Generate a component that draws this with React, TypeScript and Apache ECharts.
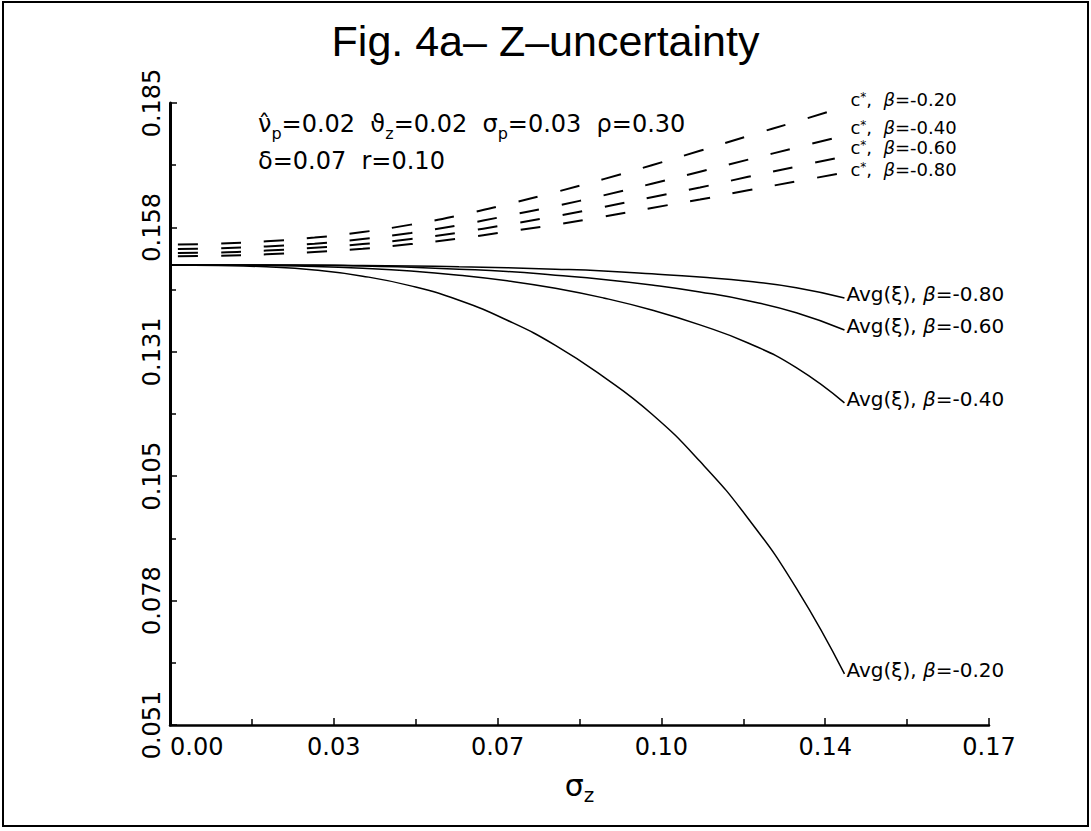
import React, { useEffect, useRef } from 'react';
import * as echarts from 'echarts';

// sigma_z sample points
const SIGMA_Z = [0, 0.01, 0.02, 0.03, 0.04, 0.05, 0.06, 0.07, 0.08, 0.09, 0.10, 0.11, 0.12, 0.13, 0.14];

// c* curves (dashed)
const C_STAR_B020 = [0.1545, 0.1547, 0.1552, 0.1560, 0.1572, 0.1588, 0.1608, 0.1632, 0.1658, 0.1686, 0.1716, 0.1747, 0.1779, 0.1810, 0.1842];
const C_STAR_B040 = [0.1535, 0.1537, 0.1541, 0.1547, 0.1557, 0.1570, 0.1587, 0.1607, 0.1628, 0.1651, 0.1676, 0.1702, 0.1728, 0.1754, 0.1780];
const C_STAR_B060 = [0.1527, 0.1528, 0.1532, 0.1538, 0.1546, 0.1557, 0.1571, 0.1588, 0.1606, 0.1626, 0.1647, 0.1668, 0.1691, 0.1713, 0.1735];
const C_STAR_B080 = [0.1520, 0.1521, 0.1524, 0.1529, 0.1536, 0.1546, 0.1558, 0.1573, 0.1588, 0.1605, 0.1624, 0.1642, 0.1662, 0.1681, 0.1700];

// Avg(xi) curves (solid)
const AVG_B020 = [0.1501, 0.1500, 0.1497, 0.1490, 0.1477, 0.1456, 0.1425, 0.1382, 0.1328, 0.1260, 0.1180, 0.1078, 0.0955, 0.0805, 0.0620];
const AVG_B040 = [0.1501, 0.1501, 0.1500, 0.1498, 0.1494, 0.1488, 0.1479, 0.1467, 0.1451, 0.1430, 0.1404, 0.1372, 0.1333, 0.1280, 0.1204];
const AVG_B060 = [0.1501, 0.1501, 0.1501, 0.1500, 0.1499, 0.1496, 0.1492, 0.1487, 0.1479, 0.1470, 0.1458, 0.1443, 0.1424, 0.1398, 0.1361];
const AVG_B080 = [0.1501, 0.1501, 0.1501, 0.1501, 0.1500, 0.1499, 0.1497, 0.1495, 0.1492, 0.1488, 0.1482, 0.1475, 0.1466, 0.1452, 0.1430];

// tick labels
const X_TICK_LABELS = ['0.00', '0.03', '0.07', '0.10', '0.14', '0.17'];
const Y_TICK_LABELS = ['0.051', '0.078', '0.105', '0.131', '0.158', '0.185'];
const X_STEP = 0.034;
const Y_MIN = 0.051;
const Y_STEP = 0.0268;

const FONT = 'DejaVu Sans';

const toAxis = (v: number) => (v - Y_MIN) / Y_STEP;
const pairs = (ys: number[]) => SIGMA_Z.map((x, i) => [x, toAxis(ys[i])]);

const cRich = {
  t: { fontSize: 18, fontFamily: FONT, color: '#000', lineHeight: 17 },
  b: { fontSize: 18, fontFamily: FONT, fontStyle: 'italic', color: '#000', lineHeight: 17 },
  sup: { fontSize: 12, fontFamily: FONT, color: '#000', verticalAlign: 'top', lineHeight: 12 },
};
const avgRich = {
  t: { fontSize: 20, fontFamily: FONT, color: '#000', lineHeight: 22 },
  b: { fontSize: 20, fontFamily: FONT, fontStyle: 'italic', color: '#000', lineHeight: 22 },
};

function dashed(name: string, ys: number[], beta: string, dy: number) {
  return {
    type: 'line',
    name,
    data: pairs(ys),
    showSymbol: false,
    smooth: true,
    lineStyle: { color: '#000', width: 2, type: [20, 23], dashOffset: 35 },
    endLabel: {
      show: true,
      formatter: `{t|c}{sup|*}{t|,  }{b|β}{t|=-${beta}}`,
      rich: cRich,
      distance: 6,
      offset: [0, dy],
    },
  };
}

function solid(name: string, ys: number[], beta: string) {
  return {
    type: 'line',
    name,
    data: pairs(ys),
    showSymbol: false,
    smooth: true,
    lineStyle: { color: '#000', width: 1.5, type: 'solid' },
    endLabel: {
      show: true,
      formatter: `{t|Avg(ξ), }{b|β}{t|=-${beta}}`,
      rich: avgRich,
      distance: 2,
      offset: [0, -4],
    },
  };
}

export default function App() {
  const ref = useRef<HTMLDivElement>(null);
  useEffect(() => {
    if (!ref.current) return;
    const chart = echarts.init(ref.current, null, { renderer: 'svg' });
    const annRich = {
      t: { fontSize: 24, fontFamily: FONT, color: '#000', lineHeight: 34, verticalAlign: 'middle' },
      s: { fontSize: 16, fontFamily: FONT, color: '#000', lineHeight: 16, verticalAlign: 'bottom' },
    };
    chart.setOption({
      animation: false,
      backgroundColor: '#fff',
      title: {
        text: 'Fig. 4a– Z–uncertainty',
        left: 'center',
        top: 14,
        textStyle: { fontFamily: 'Liberation Sans', fontSize: 43, fontWeight: 'normal', color: '#000' },
      },
      grid: { left: 170, right: 102, top: 103, bottom: 106 },
      xAxis: {
        type: 'value',
        min: 0,
        max: 0.17,
        interval: X_STEP,
        axisLine: { show: true, lineStyle: { color: '#000', width: 2.5 } },
        axisTick: { show: true, inside: true, length: 7, lineStyle: { color: '#000', width: 1.5 } },
        minorTick: { show: true, splitNumber: 2, length: 6, lineStyle: { color: '#000', width: 1.5 } },
        splitLine: { show: false },
        axisLabel: {
          formatter: (v: number) => X_TICK_LABELS[Math.round(v / X_STEP)] ?? '',
          fontFamily: FONT,
          fontSize: 24,
          color: '#000',
          margin: 10,
          alignMinLabel: 'left',
        },
        name: '{s|σ}{z|z}',
        nameLocation: 'middle',
        nameGap: 40,
        nameTextStyle: {
          rich: {
            s: { fontSize: 30, fontFamily: FONT, color: '#000', lineHeight: 40, verticalAlign: 'middle' },
            z: { fontSize: 20, fontFamily: FONT, color: '#000', lineHeight: 20, verticalAlign: 'bottom' },
          },
        },
      },
      yAxis: {
        type: 'value',
        min: 0,
        max: Y_TICK_LABELS.length - 1,
        interval: 1,
        axisLine: { show: true, lineStyle: { color: '#000', width: 3 } },
        axisTick: { show: true, inside: true, length: 7, lineStyle: { color: '#000', width: 1.5 } },
        minorTick: { show: true, splitNumber: 2, length: 6, lineStyle: { color: '#000', width: 1.5 } },
        splitLine: { show: false },
        axisLabel: {
          formatter: (v: number) => Y_TICK_LABELS[Math.round(v)] ?? '',
          fontFamily: FONT,
          fontSize: 24,
          color: '#000',
          rotate: 90,
          margin: 6,
        },
      },
      graphic: [
        {
          type: 'rect',
          shape: { x: 3, y: 2, width: 1085, height: 824 },
          style: { fill: 'none', stroke: '#000', lineWidth: 2 },
          silent: true,
        },
        {
          type: 'text',
          x: 258,
          y: 124,
          style: {
            text: '{t|ν̂}{s|p}{t|=0.02  ϑ}{s|z}{t|=0.02  σ}{s|p}{t|=0.03  ρ=0.30}',
            rich: annRich,
            verticalAlign: 'middle',
          },
        },
        {
          type: 'text',
          x: 258,
          y: 161,
          style: {
            text: '{t|δ=0.07  r=0.10}',
            rich: annRich,
            verticalAlign: 'middle',
          },
        },
      ],
      series: [
        dashed('c* β=-0.20', C_STAR_B020, '0.20', -7),
        dashed('c* β=-0.40', C_STAR_B040, '0.40', -8),
        dashed('c* β=-0.60', C_STAR_B060, '0.60', -9),
        dashed('c* β=-0.80', C_STAR_B080, '0.80', -3),
        solid('Avg β=-0.20', AVG_B020, '0.20'),
        solid('Avg β=-0.40', AVG_B040, '0.40'),
        solid('Avg β=-0.60', AVG_B060, '0.60'),
        solid('Avg β=-0.80', AVG_B080, '0.80'),
      ],
    });
    return () => chart.dispose();
  }, []);
  return <div ref={ref} style={{ position: 'fixed', left: 0, top: 0, width: 1091, height: 831 }} />;
}
